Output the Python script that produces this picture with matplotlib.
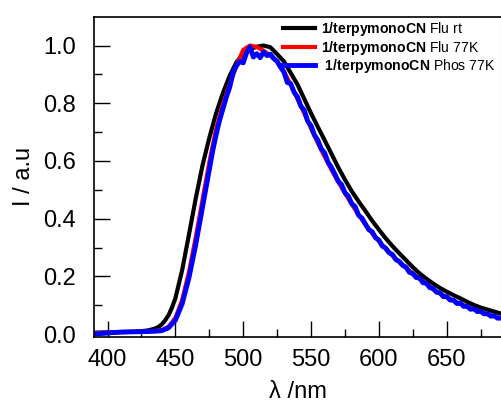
import matplotlib.pyplot as plt
import numpy as np

plt.rcParams['font.family'] = ['Liberation Sans', 'DejaVu Sans']
plt.rcParams['mathtext.fontset'] = 'custom'
plt.rcParams['mathtext.rm'] = 'Liberation Sans'
plt.rcParams['mathtext.bf'] = 'Liberation Sans:bold'

# Flu rt (black)
wl_rt = [390, 400, 410, 420, 425, 430, 435, 437.5, 440, 442.5, 445, 447.5, 450, 455,
         460, 465, 470, 475, 480, 485, 490, 495, 500, 505, 510, 515, 520, 525, 530,
         535, 540, 545, 550, 555, 560, 565, 570, 575, 580, 585, 590, 595, 600, 605,
         610, 615, 620, 625, 630, 635, 640, 645, 650, 655, 660, 665, 670, 675, 680,
         685, 690]
flu_rt = [0.005, 0.006, 0.007, 0.008, 0.010, 0.013, 0.019, 0.025, 0.034, 0.048, 0.066,
          0.092, 0.124, 0.222, 0.345, 0.470, 0.585, 0.680, 0.765, 0.835, 0.895, 0.942,
          0.972, 0.987, 0.996, 1.000, 0.994, 0.970, 0.945, 0.905, 0.865, 0.815, 0.765,
          0.718, 0.672, 0.625, 0.578, 0.535, 0.495, 0.460, 0.427, 0.393, 0.362, 0.332,
          0.305, 0.280, 0.256, 0.232, 0.210, 0.192, 0.175, 0.160, 0.147, 0.135, 0.124,
          0.112, 0.101, 0.092, 0.085, 0.078, 0.071]

# Flu 77K (red)
wl_77 = [390, 400, 410, 420, 430, 435, 440, 445, 450, 455, 460, 465, 470, 475, 480,
         485, 490, 495, 500, 505, 510, 515, 520, 525, 530, 535, 540, 545, 550, 555,
         560, 565, 570, 575, 580, 585, 590, 595, 600, 605, 610, 615, 620, 625, 630,
         635, 640, 645, 650, 655, 660, 665, 670, 675, 680, 685, 690]
flu_77 = [0.003, 0.005, 0.007, 0.008, 0.010, 0.011, 0.014, 0.026, 0.056, 0.118, 0.215,
          0.335, 0.465, 0.595, 0.710, 0.795, 0.865, 0.930, 0.985, 1.000, 0.995, 0.982,
          0.965, 0.945, 0.910, 0.865, 0.815, 0.765, 0.712, 0.662, 0.615, 0.570, 0.528,
          0.488, 0.450, 0.414, 0.380, 0.350, 0.322, 0.296, 0.272, 0.250, 0.230, 0.210,
          0.192, 0.176, 0.155, 0.141, 0.128, 0.116, 0.105, 0.095, 0.086, 0.077, 0.069,
          0.062, 0.055]

# Phos 77K (blue)
wl_ph = [390, 400, 410, 420, 430, 435, 440, 445, 450, 455, 460, 465, 470, 475, 477.5,
         480, 482.5, 485, 487.5, 490, 492.5, 495, 497.5, 500, 502.5, 505, 507.5, 510,
         512.5, 515, 517.5, 520, 522.5, 525, 527.5, 530, 532.5, 535, 537.5, 540, 542.5,
         545, 547.5, 550, 552.5, 555, 557.5, 560, 562.5, 565, 567.5, 570, 572.5, 575,
         577.5, 580, 582.5, 585, 587.5, 590, 592.5, 595, 597.5, 600, 602.5, 605, 607.5,
         610, 612.5, 615, 617.5, 620, 622.5, 625, 627.5, 630, 632.5, 635, 637.5, 640,
         642.5, 645, 647.5, 650, 652.5, 655, 657.5, 660, 662.5, 665, 667.5, 670, 672.5,
         675, 677.5, 680, 682.5, 685, 687.5, 690]
phos_77 = [0.000, 0.004, 0.007, 0.008, 0.009, 0.010, 0.012, 0.022, 0.048, 0.105, 0.195,
           0.310, 0.440, 0.570, 0.635, 0.690, 0.740, 0.780, 0.820, 0.855, 0.905, 0.930,
           0.945, 0.940, 0.975, 0.995, 0.960, 0.972, 0.958, 0.978, 0.965, 0.970, 0.955,
           0.945, 0.925, 0.908, 0.872, 0.868, 0.838, 0.822, 0.790, 0.776, 0.738, 0.722,
           0.690, 0.672, 0.642, 0.628, 0.596, 0.578, 0.555, 0.530, 0.518, 0.490, 0.478,
           0.452, 0.442, 0.412, 0.402, 0.382, 0.362, 0.355, 0.334, 0.326, 0.305, 0.298,
           0.282, 0.276, 0.258, 0.252, 0.238, 0.232, 0.214, 0.210, 0.196, 0.194, 0.178,
           0.176, 0.161, 0.158, 0.145, 0.143, 0.130, 0.130, 0.118, 0.118, 0.106, 0.108,
           0.096, 0.097, 0.086, 0.088, 0.078, 0.079, 0.070, 0.071, 0.062, 0.064, 0.055,
           0.056]

labels = [r'$\mathbf{1/terpymonoCN}$ Flu rt',
          r'$\mathbf{1/terpymonoCN}$ Flu 77K',
          r' $\mathbf{1/terpymonoCN}$ Phos 77K']

fig = plt.figure(figsize=(5.01, 4.03), dpi=100)
ax = fig.add_axes([0.1876, 0.1638, 0.8124, 0.7948])

ax.plot(wl_rt, flu_rt, color='black', lw=3, label=labels[0])
ax.plot(wl_77, flu_77, color='red', lw=3, label=labels[1])
ax.plot(wl_ph, phos_77, color='blue', lw=3.5, label=labels[2])

ax.set_xlim(390, 690)
ax.set_ylim(-0.01, 1.10)
ax.set_xticks(np.arange(400, 651, 50))
ax.set_xticks(np.arange(425, 690, 50), minor=True)
ax.set_yticks(np.arange(0, 1.01, 0.2))
ax.set_yticks(np.arange(0.1, 1.1, 0.2), minor=True)
ax.yaxis.set_major_formatter(plt.FormatStrFormatter('%.1f'))

ax.tick_params(which='major', direction='in', length=11.5, width=1, labelsize=17)
ax.tick_params(axis='x', which='major', pad=9)
ax.tick_params(axis='y', which='major', pad=13)
ax.tick_params(which='minor', direction='in', length=5.5, width=1)

for s in ['left', 'bottom', 'top']:
    ax.spines[s].set_linewidth(1.2)
ax.spines['right'].set_color('#b0b0b0')
ax.spines['right'].set_linewidth(0.8)

ax.set_xlabel('\u03bb /nm', fontsize=17, labelpad=7)
ax.set_ylabel('I / a.u', fontsize=17, labelpad=6)

ax.legend(loc='upper left', bbox_to_anchor=(0.464, 0.99), frameon=False,
          fontsize=10.1, handlelength=2.3, handletextpad=0.4, labelspacing=0.05,
          borderpad=0, borderaxespad=0)

fig.savefig('out.png', dpi=100)
